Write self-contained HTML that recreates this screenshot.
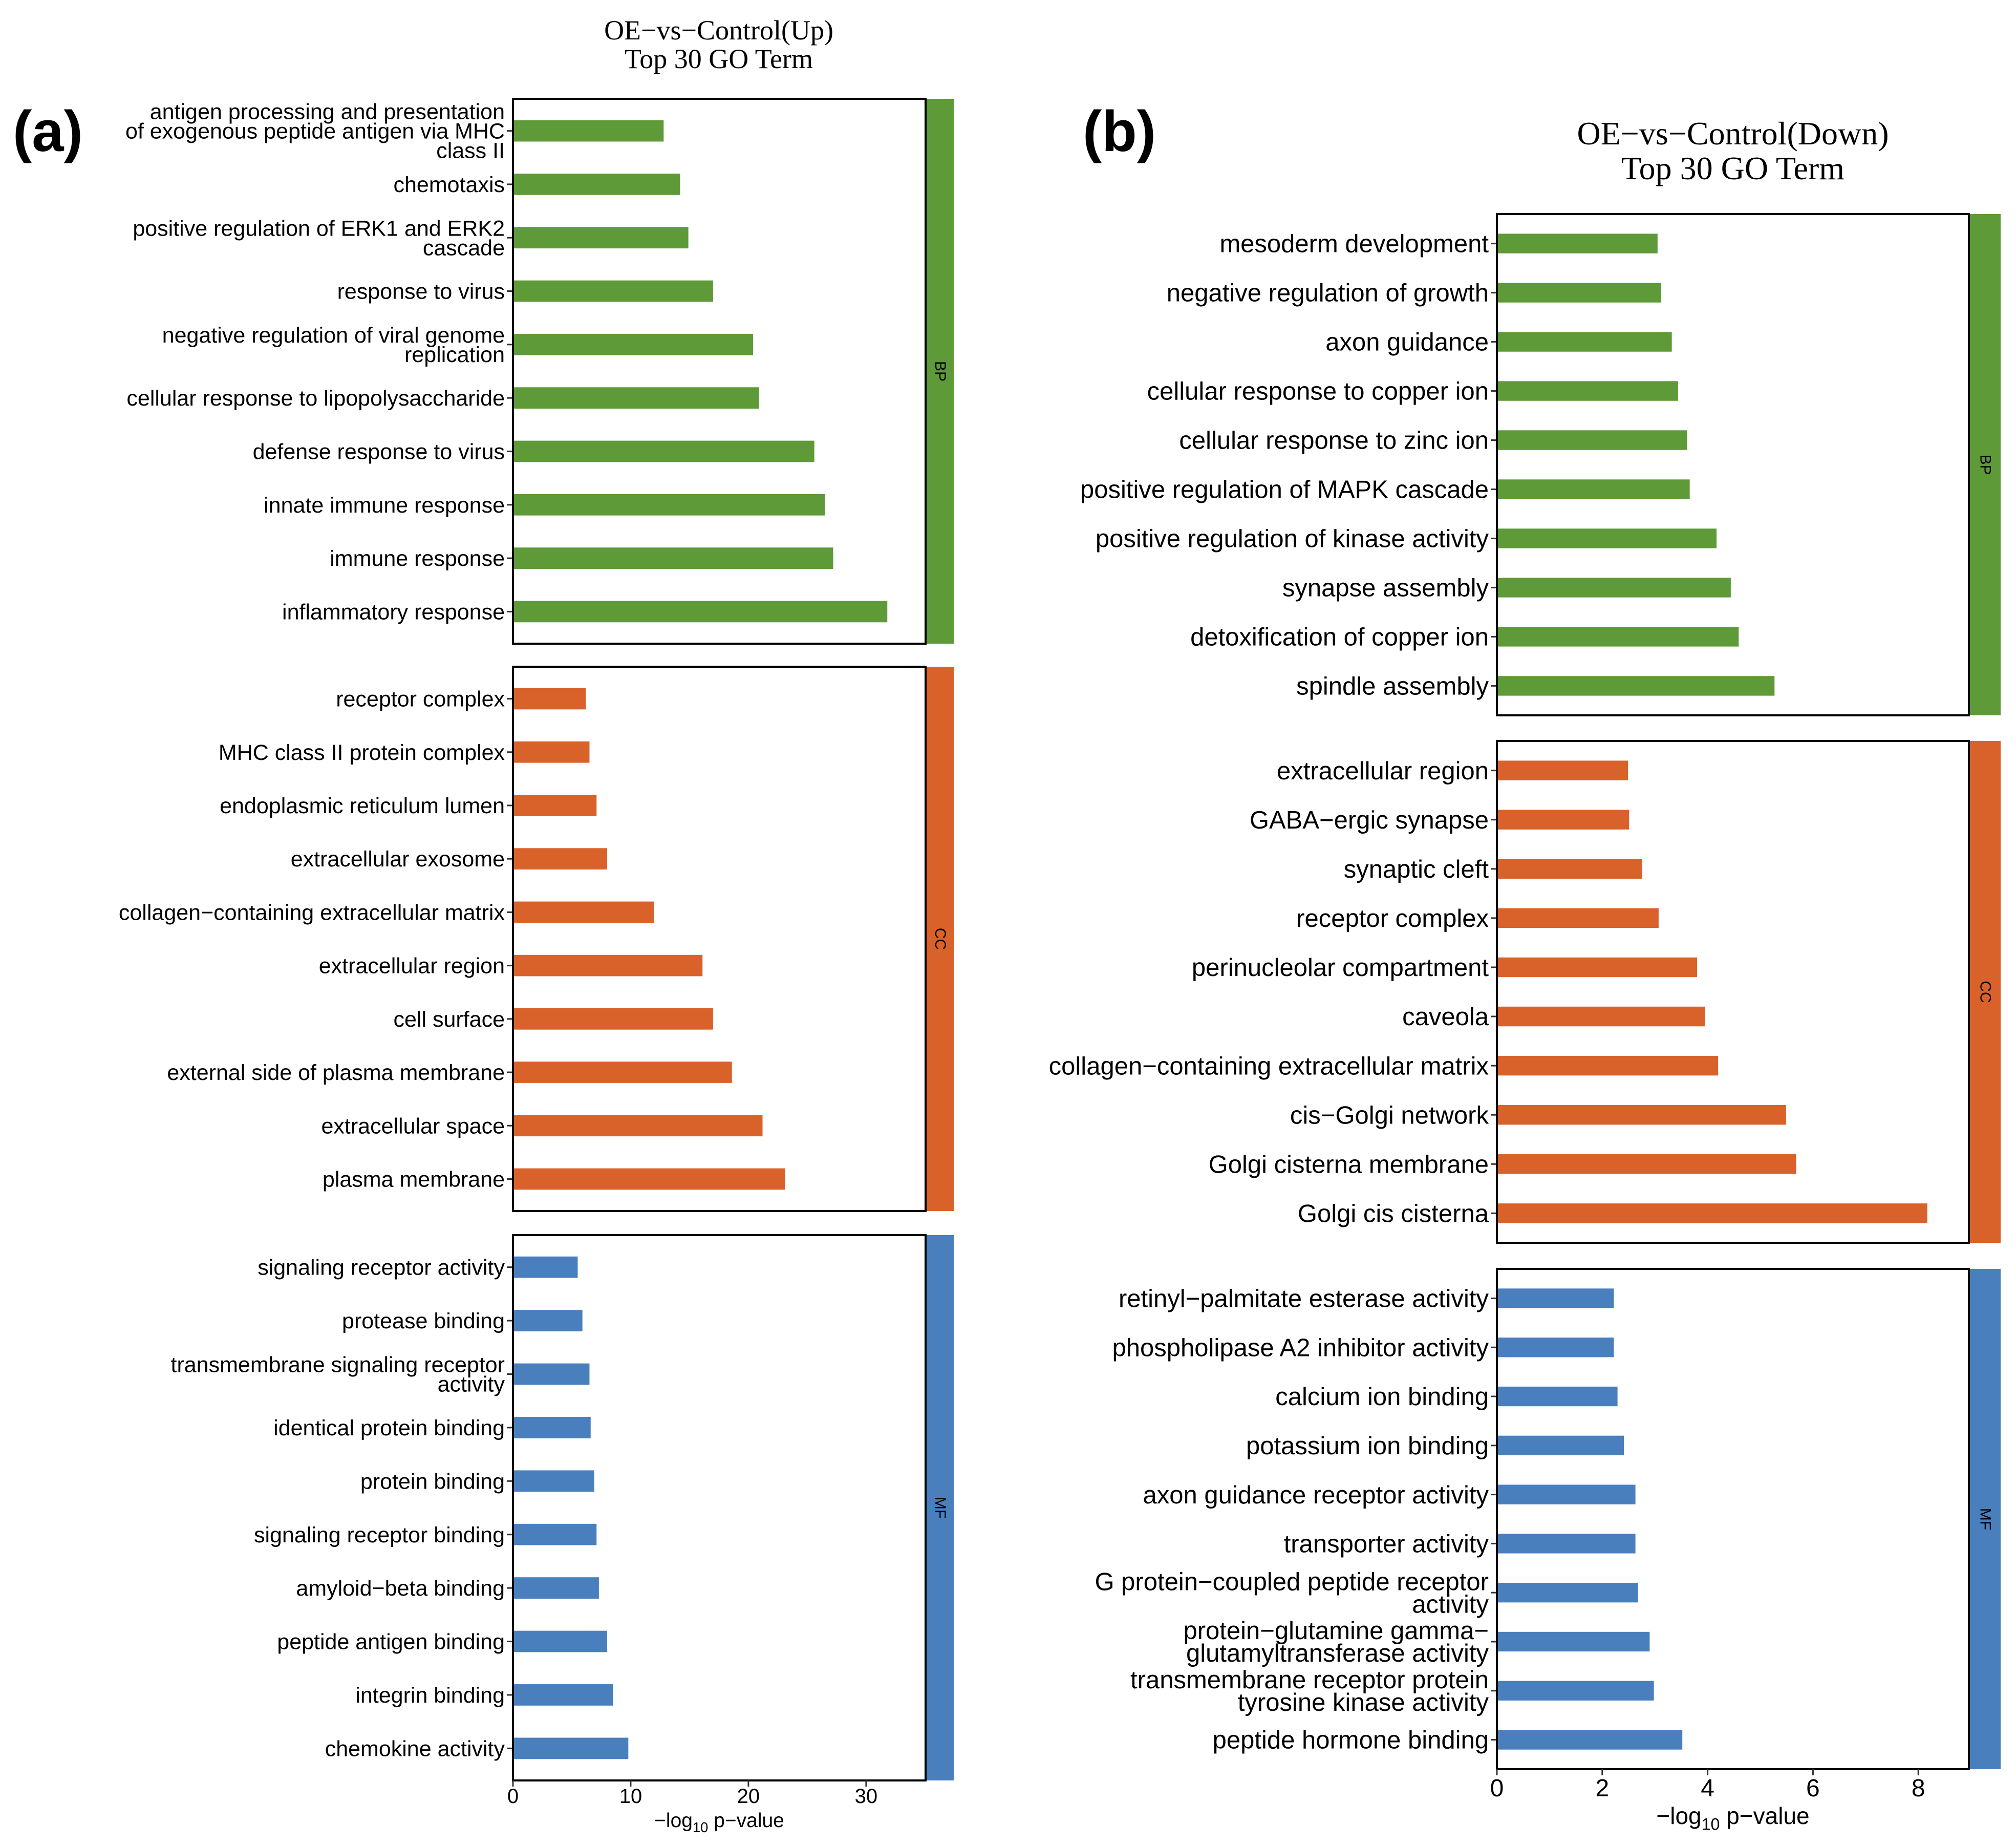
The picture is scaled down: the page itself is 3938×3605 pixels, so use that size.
<!DOCTYPE html>
<html><head><meta charset="utf-8"><style>
html,body{margin:0;padding:0;background:#fff}
svg{display:block}
text{font-family:"Liberation Sans",sans-serif;fill:#000}
.serif{font-family:"Liberation Serif",serif}
</style></head><body>
<svg id="chart" width="3938" height="3605" viewBox="0 0 3938 3605" xmlns="http://www.w3.org/2000/svg">
<text x="25" y="295" font-size="112" font-weight="bold">(a)</text>
<text x="2115" y="295" font-size="112" font-weight="bold">(b)</text>
<text class="serif" x="1404" y="77" font-size="54" text-anchor="middle">OE−vs−Control(Up)</text>
<text class="serif" x="1404" y="133" font-size="54" text-anchor="middle">Top 30 GO Term</text>
<text class="serif" x="3385" y="282" font-size="64" text-anchor="middle">OE−vs−Control(Down)</text>
<text class="serif" x="3385" y="350" font-size="64" text-anchor="middle">Top 30 GO Term</text>
</svg>
<script>
// ---- Panel A data (top to bottom within each facet) ----
const aBPTerms = ["antigen processing and presentation\nof exogenous peptide antigen via MHC\nclass II","chemotaxis","positive regulation of ERK1 and ERK2\ncascade","response to virus","negative regulation of viral genome\nreplication","cellular response to lipopolysaccharide","defense response to virus","innate immune response","immune response","inflammatory response"];
const aBPValues = [12.8,14.2,14.9,17.0,20.4,20.9,25.6,26.5,27.2,31.8];
const aCCTerms = ["receptor complex","MHC class II protein complex","endoplasmic reticulum lumen","extracellular exosome","collagen−containing extracellular matrix","extracellular region","cell surface","external side of plasma membrane","extracellular space","plasma membrane"];
const aCCValues = [6.2,6.5,7.1,8.0,12.0,16.1,17.0,18.6,21.2,23.1];
const aMFTerms = ["signaling receptor activity","protease binding","transmembrane signaling receptor\nactivity","identical protein binding","protein binding","signaling receptor binding","amyloid−beta binding","peptide antigen binding","integrin binding","chemokine activity"];
const aMFValues = [5.5,5.9,6.5,6.6,6.9,7.1,7.3,8.0,8.5,9.8];
const aTicks = [0,10,20,30];
// ---- Panel B data ----
const bBPTerms = ["mesoderm development","negative regulation of growth","axon guidance","cellular response to copper ion","cellular response to zinc ion","positive regulation of MAPK cascade","positive regulation of kinase activity","synapse assembly","detoxification of copper ion","spindle assembly"];
const bBPValues = [3.05,3.12,3.32,3.44,3.61,3.66,4.17,4.44,4.59,5.27];
const bCCTerms = ["extracellular region","GABA−ergic synapse","synaptic cleft","receptor complex","perinucleolar compartment","caveola","collagen−containing extracellular matrix","cis−Golgi network","Golgi cisterna membrane","Golgi cis cisterna"];
const bCCValues = [2.49,2.51,2.76,3.07,3.80,3.95,4.20,5.49,5.68,8.17];
const bMFTerms = ["retinyl−palmitate esterase activity","phospholipase A2 inhibitor activity","calcium ion binding","potassium ion binding","axon guidance receptor activity","transporter activity","G protein−coupled peptide receptor\nactivity","protein−glutamine gamma−\nglutamyltransferase activity","transmembrane receptor protein\ntyrosine kinase activity","peptide hormone binding"];
const bMFValues = [2.22,2.22,2.29,2.41,2.63,2.63,2.68,2.90,2.98,3.52];
const bTicks = [0,2,4,6,8];

const NS="http://www.w3.org/2000/svg";
const svg=document.getElementById('chart');
function mk(tag,attrs,parent){const e=document.createElementNS(NS,tag);for(const k in attrs)e.setAttribute(k,attrs[k]);(parent||svg).appendChild(e);return e;}

function panel(cfg){
  const xs=v=>cfg.x0+(v/cfg.xmax)*(cfg.x1-cfg.x0);
  cfg.facets.forEach((f,fi)=>{
    const top=f.top,bot=f.bot,n=f.terms.length;
    const step=(bot-top)/(n+0.2);
    const g=mk('g',{});
    
    
    f.values.forEach((v,i)=>{
      const cy=top+(0.6+i)*step;
      const r=mk('rect',{x:xs(0),y:cy-step*0.2,width:xs(v)-xs(0),height:step*0.4,fill:f.color},g);
      
      
      mk('line',{x1:cfg.x0-12,x2:cfg.x0,y1:cy,y2:cy,stroke:'#333','stroke-width':3},g);
      const lines=f.terms[i].split('\n');
      const t=mk('text',{x:cfg.x0-16,'text-anchor':'end','font-size':cfg.fs},g);
      
      
      const y0=cy-(lines.length-1)*cfg.lh/2+cfg.fs*0.35;
      lines.forEach((l,j)=>{const s=mk('tspan',{x:cfg.x0-16,y:y0+j*cfg.lh},t);s.textContent=l;});
    });
    const box=mk('rect',{x:cfg.x0,y:top,width:cfg.x1-cfg.x0,height:bot-top,fill:'none',stroke:'#000','stroke-width':4},g);
    
    
    const st=mk('rect',{x:cfg.x1+2,y:top,width:cfg.sw,height:bot-top,fill:f.color},g);
    
    
    const sx=cfg.x1+2+cfg.sw/2,sy=(top+bot)/2;
    const stt=mk('text',{x:sx,y:sy,'font-size':30,'text-anchor':'middle','dominant-baseline':'central',transform:`rotate(90 ${sx} ${sy})`},g);
    stt.textContent=f.code;
    
    
  });
  const yb=cfg.facets[cfg.facets.length-1].bot;
  const ax=mk('g',{});
  
  
  cfg.ticks.forEach(tv=>{
    mk('line',{x1:xs(tv),x2:xs(tv),y1:yb,y2:yb+12,stroke:'#333','stroke-width':3},ax);
    const t=mk('text',{x:xs(tv),y:yb+cfg.tfs*1.1,'text-anchor':'middle','font-size':cfg.tfs},ax);
    t.textContent=tv;
    
    
  });
  const at=mk('text',{x:(cfg.x0+cfg.x1)/2,y:cfg.titleY,'text-anchor':'middle','font-size':cfg.atfs},ax);
  
  
  const s1=mk('tspan',{},at);s1.textContent='−log';
  const s2=mk('tspan',{'font-size':cfg.atfs*0.7,dy:cfg.atfs*0.25},at);s2.textContent='10';
  const s3=mk('tspan',{dy:-cfg.atfs*0.25},at);s3.textContent=' p−value';
}

panel({id:'panel-a',x0:1002,x1:1808,xmax:35.05,sw:53,fs:43,lh:38,tfs:40,atfs:39,titleY:3568,ticks:aTicks,
  facets:[{code:'BP',top:193,bot:1257,color:'#5e9a38',terms:aBPTerms,values:aBPValues},
          {code:'CC',top:1302,bot:2365,color:'#d9622b',terms:aCCTerms,values:aCCValues},
          {code:'MF',top:2412,bot:3477,color:'#4a7fbe',terms:aMFTerms,values:aMFValues}]});
panel({id:'panel-b',x0:2924,x1:3846,xmax:8.96,sw:60,fs:49,lh:44,tfs:48,atfs:46,titleY:3562,ticks:bTicks,
  facets:[{code:'BP',top:418,bot:1397,color:'#5e9a38',terms:bBPTerms,values:bBPValues},
          {code:'CC',top:1447,bot:2427,color:'#d9622b',terms:bCCTerms,values:bCCValues},
          {code:'MF',top:2478,bot:3455,color:'#4a7fbe',terms:bMFTerms,values:bMFValues}]});
</script>
</body></html>
